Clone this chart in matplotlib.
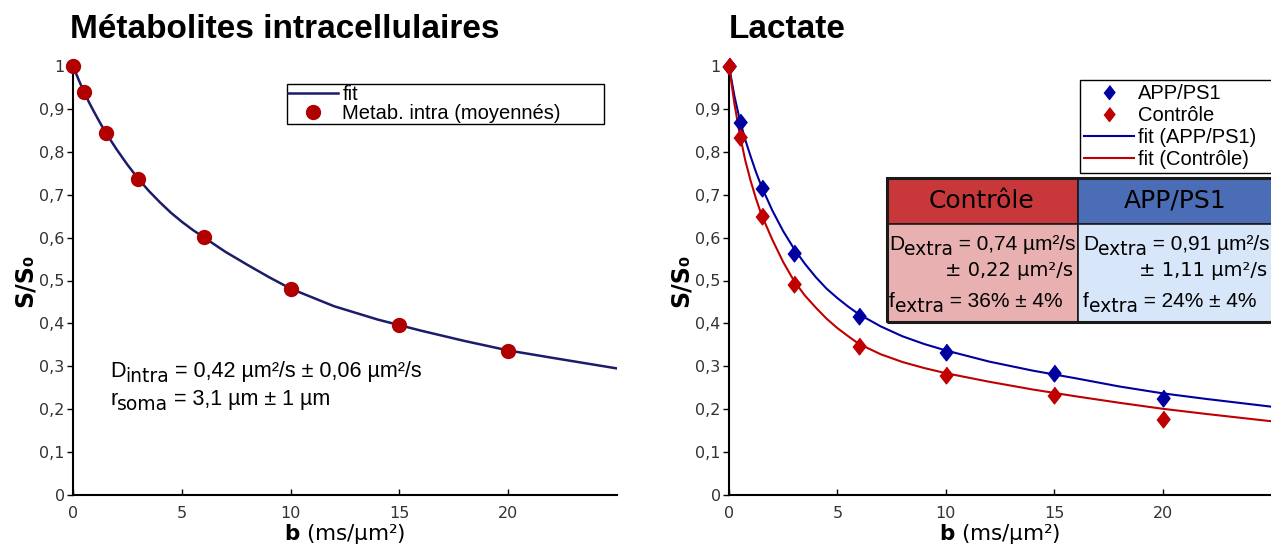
import numpy as np
import matplotlib
matplotlib.use('Agg')
import matplotlib.pyplot as plt
from matplotlib.patches import Rectangle

# data
b_pts = [0, 0.5, 1.5, 3, 6, 10, 15, 20]
metab_intra = [1.0, 0.939, 0.844, 0.737, 0.601, 0.480, 0.396, 0.336]
app_ps1 = [1.0, 0.869, 0.716, 0.563, 0.418, 0.334, 0.285, 0.227]
controle = [1.0, 0.834, 0.651, 0.493, 0.347, 0.280, 0.233, 0.177]

b_fit = [0, 0.25, 0.5, 0.75, 1, 1.25, 1.5, 2, 2.5, 3, 3.5, 4, 4.5, 5, 5.5, 6,
         7, 8, 9, 10, 12, 14, 16, 18, 20, 22, 25]
fit_intra = [1.0, 0.969, 0.940, 0.914, 0.890, 0.867, 0.845, 0.806, 0.770, 0.737,
             0.708, 0.682, 0.658, 0.637, 0.618, 0.601, 0.567, 0.537, 0.508, 0.481,
             0.440, 0.409, 0.383, 0.359, 0.337, 0.320, 0.295]
fit_app = [1.0, 0.930, 0.874, 0.828, 0.789, 0.752, 0.719, 0.663, 0.615, 0.574,
           0.539, 0.508, 0.481, 0.459, 0.439, 0.421, 0.393, 0.370, 0.352, 0.337,
           0.311, 0.290, 0.272, 0.253, 0.237, 0.224, 0.206]
fit_ctrl = [1.0, 0.912, 0.840, 0.780, 0.732, 0.690, 0.653, 0.595, 0.543, 0.499,
            0.465, 0.437, 0.411, 0.389, 0.370, 0.352, 0.328, 0.310, 0.296, 0.284,
            0.264, 0.246, 0.230, 0.215, 0.201, 0.189, 0.172]

y_ticks = [0, 0.1, 0.2, 0.3, 0.4, 0.5, 0.6, 0.7, 0.8, 0.9, 1]
y_labels = ['0', '0,1', '0,2', '0,3', '0,4', '0,5', '0,6', '0,7', '0,8', '0,9', '1']
x_ticks = [0, 5, 10, 15, 20]

navy = '#1c1c6a'
dark_red = '#b00000'
blue = '#0000a0'
red = '#c00000'
diamond = [(0, 1), (0.78, 0), (0, -1), (-0.78, 0)]

plt.rcParams['mathtext.fontset'] = 'custom'
plt.rcParams['mathtext.rm'] = 'DejaVu Sans'
plt.rcParams['mathtext.bf'] = 'DejaVu Sans:bold'

W, H = 1271, 550
fig = plt.figure(figsize=(W / 100, H / 100), dpi=100)


def px(x, y):
    # pixel (from top-left) to figure fraction
    return x / W, 1 - y / H


def style_axes(ax):
    ax.set_xlim(0, 25)
    ax.set_ylim(0, 1)
    for s in ['top', 'right']:
        ax.spines[s].set_visible(False)
    for s in ['left', 'bottom']:
        ax.spines[s].set_linewidth(1.5)
    ax.set_yticks(y_ticks)
    ax.set_yticklabels(y_labels)
    ax.set_xticks(x_ticks)
    ax.tick_params(axis='x', direction='in', length=4, width=1, labelsize=11.5,
                   labelcolor='#333333', pad=8)
    ax.tick_params(axis='y', direction='out', length=4, width=1, labelsize=11.5,
                   labelcolor='#333333', pad=2)
    for lab in ax.get_xticklabels() + ax.get_yticklabels():
        lab.set_family('DejaVu Sans')
    ax.set_xlabel(r'$\mathbf{b}$ (ms/µm²)', fontsize=15.5, family='DejaVu Sans', labelpad=1)
    ax.set_ylabel('S/S₀', fontsize=17, fontweight='bold', family='DejaVu Sans', labelpad=2)
    ax.set_facecolor('none')


ax1 = fig.add_axes([73 / W, 55 / H, 544 / W, 429 / H])
ax2 = fig.add_axes([729 / W, 55 / H, 542 / W, 429 / H])
style_axes(ax1)
style_axes(ax2)

leg_kw = dict(loc='upper left', mode='expand', bbox_transform=fig.transFigure,
              prop={'family': 'Liberation Sans', 'size': 14.5}, frameon=True, fancybox=False,
              edgecolor='black', framealpha=1, borderaxespad=0, handlelength=2.5,
              handletextpad=0.2)

# left panel
ax1.plot(b_fit, fit_intra, color=navy, lw=1.8, label='fit', zorder=2)
ax1.plot(b_pts, metab_intra, 'o', color=dark_red, ms=10, label='Metab. intra (moyennés)',
         clip_on=False, zorder=3)
leg1 = ax1.legend(bbox_to_anchor=(287 / W, 1 - 126 / H, 317 / W, 42 / H),
                  borderpad=0.05, labelspacing=0.0, **leg_kw)
leg1.get_frame().set_linewidth(1)

# right panel
ax2.plot(b_pts, app_ps1, marker=diamond, ls='none', color=blue, ms=12, label='APP/PS1',
         clip_on=False, zorder=3)
ax2.plot(b_pts, controle, marker=diamond, ls='none', color=red, ms=12, label='Contrôle',
         clip_on=False, zorder=3)
ax2.plot(b_fit, fit_app, color=blue, lw=1.5, label='fit (APP/PS1)', zorder=2)
ax2.plot(b_fit, fit_ctrl, color=red, lw=1.5, label='fit (Contrôle)', zorder=2)
leg2 = ax2.legend(bbox_to_anchor=(1080 / W, 1 - 178 / H, 200 / W, 98 / H),
                  borderpad=0.2, labelspacing=0.15, **leg_kw)
leg2.get_frame().set_linewidth(1)
for h in leg2.legend_handles[:2]:
    h.set_markersize(10)

# titles
fig.text(*px(70, 38), 'Métabolites intracellulaires', fontsize=24, fontweight='bold',
         family='Liberation Sans', va='baseline')
fig.text(*px(729, 38), 'Lactate', fontsize=24, fontweight='bold',
         family='Liberation Sans', va='baseline')

renderer = fig.canvas.get_renderer()


def chain(x, y, parts):
    # draw text pieces one after the other on a common baseline (pixels)
    for s, fam, size, dy in parts:
        t = fig.text(*px(x, y + dy), s, fontsize=size, family=fam, va='baseline', zorder=5)
        bb = t.get_window_extent(renderer)
        x = bb.x1


chain(110, 377, [('D', 'Liberation Sans', 15.5, 0), ('intra', 'DejaVu Sans', 13.5, 5),
                 (' = 0,42 µm²/s ± 0,06 µm²/s', 'Liberation Sans', 15.5, 0)])
chain(110, 405, [('r', 'Liberation Sans', 15.5, 0), ('soma', 'DejaVu Sans', 13.5, 5),
                 (' = 3,1 µm ± 1 µm', 'Liberation Sans', 15.5, 0)])

# parameter table
cells = [
    (887, 178, 191, 46, '#c8383a'),
    (1078, 178, 200, 46, '#4b6db5'),
    (887, 224, 191, 98, '#e8b0b0'),
    (1078, 224, 200, 98, '#d8e6fa'),
]
for x0, y0, w, h, c in cells:
    fig.add_artist(Rectangle(px(x0, y0 + h), w / W, h / H, transform=fig.transFigure,
                             facecolor=c, edgecolor='#1a1a1a', lw=1.2, zorder=4))
fig.add_artist(Rectangle(px(887, 322), 400 / W, 144 / H, transform=fig.transFigure,
                         facecolor='none', edgecolor='#1a1a1a', lw=2.2, zorder=4))

fig.text(*px(982, 201), 'Contrôle', fontsize=18, family='DejaVu Sans', ha='center',
         va='center', zorder=5)
fig.text(*px(1175, 201), 'APP/PS1', fontsize=18, family='DejaVu Sans', ha='center',
         va='center', zorder=5)

for x0, x1, d_val, d_err, f_val in [(889, 1073, '0,74', '0,22', '36%'),
                                    (1083, 1267, '0,91', '1,11', '24%')]:
    chain(x0, 250, [('D', 'Liberation Sans', 15, 0), ('extra', 'DejaVu Sans', 13.5, 5),
                    (' = ' + d_val + ' µm²/s', 'Liberation Sans', 15, 0)])
    fig.text(*px(x1, 276), '± ' + d_err + ' µm²/s', fontsize=14, family='DejaVu Sans',
             ha='right', va='baseline', zorder=5)
    chain(x0, 307, [('f', 'Liberation Sans', 15, 0), ('extra', 'DejaVu Sans', 13.5, 5),
                    (' = ' + f_val + ' ± 4%', 'Liberation Sans', 15, 0)])

fig.savefig('out.png', dpi=100)
